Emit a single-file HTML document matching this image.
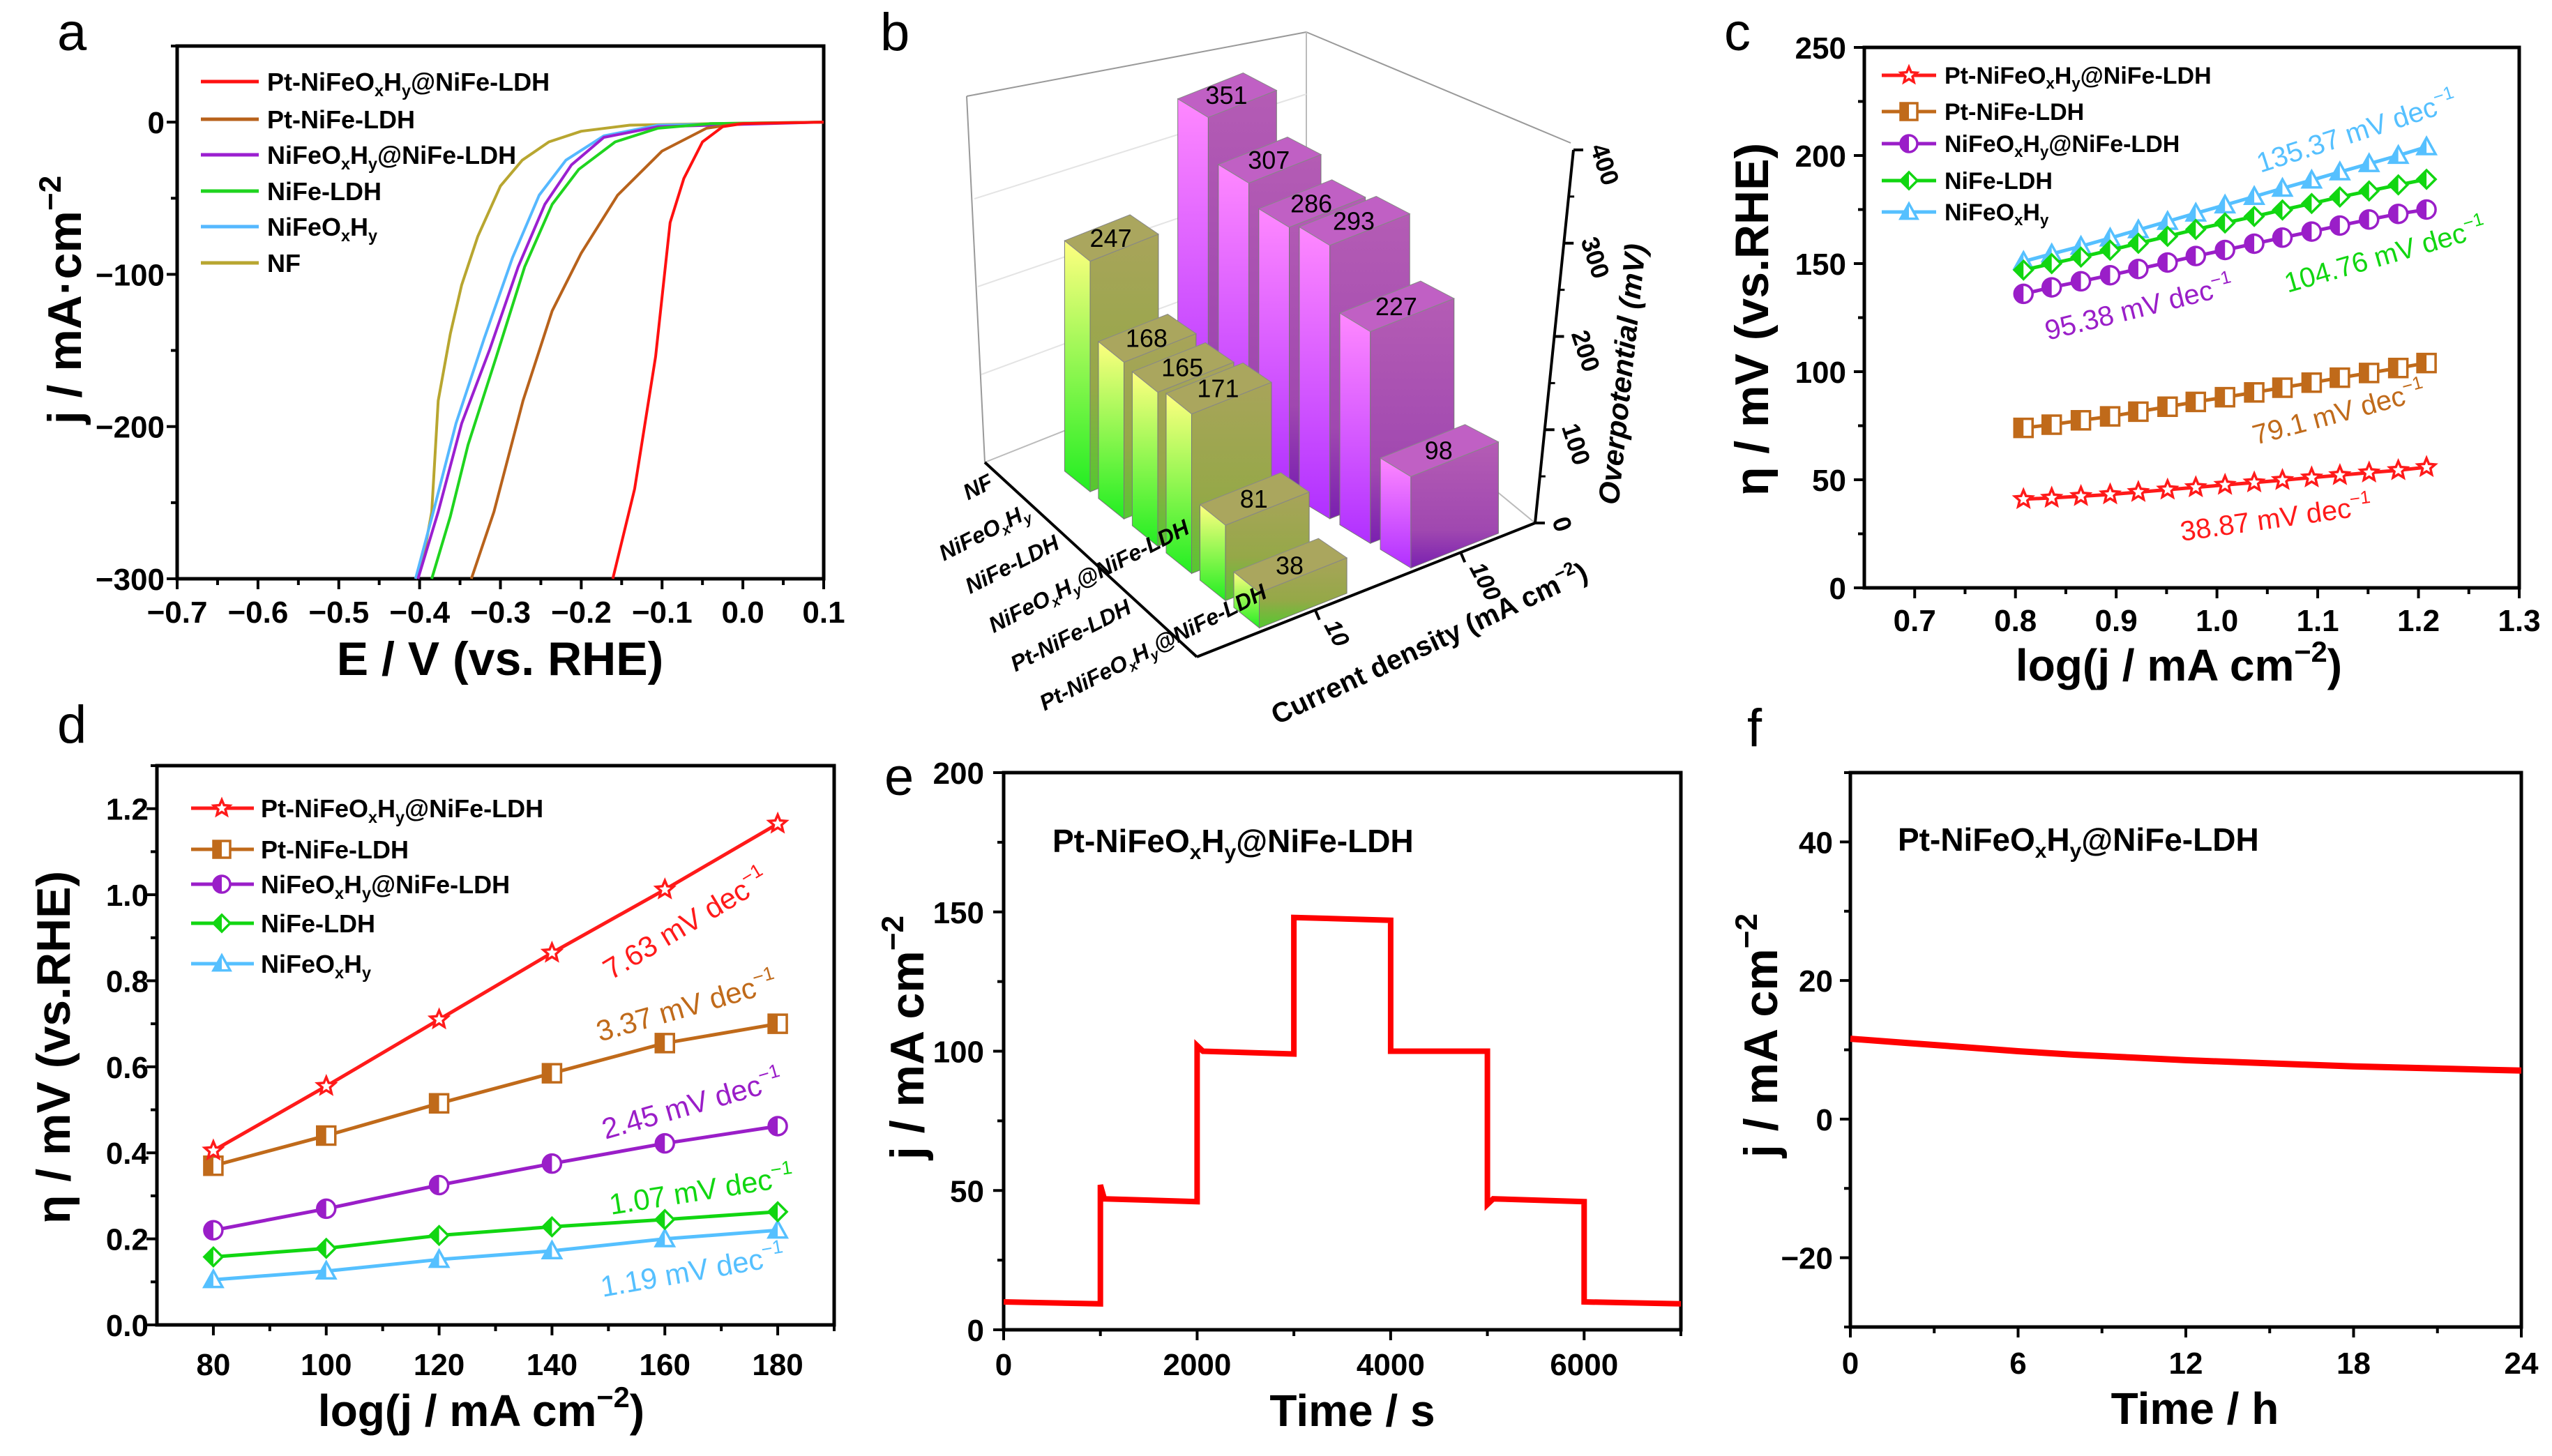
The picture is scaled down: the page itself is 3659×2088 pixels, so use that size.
<!DOCTYPE html>
<html><head><meta charset="utf-8">
<style>
html,body{margin:0;padding:0;background:#fff;}
svg{display:block;font-family:"Liberation Sans",Arial,sans-serif;}
</style></head>
<body>
<svg id="fig" xmlns="http://www.w3.org/2000/svg" width="3659" height="2088" viewBox="0 0 3659 2088">
<defs>
<linearGradient id="gBright" x1="0" y1="0" x2="0" y2="1"><stop offset="0" stop-color="#ffff80"/><stop offset="1" stop-color="#22ee22"/></linearGradient>
<linearGradient id="gFront" x1="0" y1="0" x2="0" y2="1"><stop offset="0" stop-color="#a8a45a"/><stop offset="0.6" stop-color="#95a848"/><stop offset="1" stop-color="#55c830"/></linearGradient>
<linearGradient id="pBright" x1="0" y1="0" x2="0" y2="1"><stop offset="0" stop-color="#ff88ff"/><stop offset="1" stop-color="#b030ff"/></linearGradient>
<linearGradient id="pFront" x1="0" y1="0" x2="0" y2="1"><stop offset="0" stop-color="#b45cb4"/><stop offset="0.7" stop-color="#a048b0"/><stop offset="1" stop-color="#7a20b0"/></linearGradient>
</defs>
</svg>
<script>
// ---------------- DATA ----------------
// panel a (LSV)
const aRedE=[-0.161,-0.134,-0.108,-0.090,-0.073,-0.050,-0.025,0.0,0.1];
const aRedJ=[-300,-241,-154,-66,-37,-13,-3,-1,0];
const aBrownE=[-0.336,-0.308,-0.272,-0.236,-0.200,-0.155,-0.100,-0.045,-0.005,0.1];
const aBrownJ=[-300,-256,-183,-124,-86,-48,-19,-4,-1,0];
const aGreenE=[-0.385,-0.362,-0.340,-0.305,-0.270,-0.236,-0.203,-0.158,-0.105,-0.040,0.1];
const aGreenJ=[-300,-259,-212,-154,-95,-54,-31,-13,-4,-1,0];
const aPurpleE=[-0.402,-0.377,-0.348,-0.313,-0.278,-0.245,-0.212,-0.172,-0.105,0.1];
const aPurpleJ=[-300,-256,-198,-149,-95,-54,-28,-10,-3,0];
const aBlueE=[-0.405,-0.383,-0.355,-0.320,-0.285,-0.252,-0.219,-0.172,-0.105,0.1];
const aBlueJ=[-300,-256,-198,-142,-89,-48,-25,-9,-2,0];
const aNfE=[-0.405,-0.395,-0.385,-0.377,-0.362,-0.348,-0.328,-0.300,-0.273,-0.240,-0.200,-0.140,-0.040,0.1];
const aNfJ=[-300,-285,-256,-183,-139,-107,-75,-42,-25,-13,-6,-2,-1,0];
// panel b (3D bars)
const bCategories=["NF","NiFeO_xH_y","NiFe-LDH","NiFeO_xH_y@NiFe-LDH","Pt-NiFe-LDH","Pt-NiFeO_xH_y@NiFe-LDH"];
const bValues10=[247,168,165,171,81,38];
const bValues100=[351,307,286,293,227,98];
const bZTicks=[0,100,200,300,400];
// panel c (Tafel)
const cX=[0.808,0.836,0.865,0.894,0.922,0.951,0.979,1.008,1.037,1.065,1.094,1.122,1.151,1.180,1.208];
const cRed=[41,41.6,42.4,43.2,44.3,45.4,46.5,47.6,48.7,49.8,51,52.1,53.3,54.4,55.8];
const cBrown=[74,75.5,77.5,79.3,81.5,83.8,86,88.2,90.4,92.6,94.9,97.2,99.4,101.7,104];
const cPurple=[136,139,141.8,144.6,147.5,150.5,153.5,156.3,159.2,162,164.8,167.6,170.4,173,175];
const cGreen=[147,150,153,156.2,159.4,162.6,165.8,168.8,171.8,174.8,177.8,180.8,183.6,186.4,189];
const cBlue=[151,154.5,158,161.8,165.6,169.5,173.3,177.1,181,184.8,188.6,192.4,196.2,200,204];
// panel d
const dX=[80,100,120,140,160,180];
const dRed=[0.405,0.555,0.71,0.865,1.012,1.165];
const dBrown=[0.37,0.44,0.515,0.585,0.655,0.70];
const dPurple=[0.22,0.27,0.325,0.375,0.422,0.462];
const dGreen=[0.158,0.178,0.208,0.228,0.245,0.263];
const dBlue=[0.105,0.125,0.152,0.172,0.2,0.22];
// panel e (multi-step)
const eT=[0,1000,1000,1040,2000,2000,2060,3000,3000,4000,4000,5000,5000,5060,6000,6000,7000];
const eJ=[10,9.3,52,47,46,102,100,99,148,147,100,100,45,47,46,10,9.3];
// panel f (stability)
const fT=[0,2,4,6,8,10,12,14,16,18,20,22,24];
const fJ=[11.6,11,10.4,9.8,9.3,8.9,8.5,8.2,7.9,7.6,7.4,7.2,7.0];

// ---------------- HELPERS ----------------
const NS='http://www.w3.org/2000/svg';
const svg=document.getElementById('fig');
function el(tag,attrs,parent){const e=document.createElementNS(NS,tag);for(const k in attrs)e.setAttribute(k,attrs[k]);(parent||svg).appendChild(e);return e;}
function fmt(s,fs){
  return s.replace(/_(.)/g,(m,c)=>`<tspan font-size="${fs*0.65}" baseline-shift="${-fs*0.22}">${c}</tspan>`)
          .replace(/\^\{([^}]*)\}/g,(m,c)=>`<tspan font-size="${fs*0.65}" baseline-shift="${fs*0.42}">${c}</tspan>`);
}
function txt(x,y,s,fs,o,parent){
  o=o||{};
  const t=el('text',{x:x,y:y,'font-size':fs,'font-weight':o.w||'bold','text-anchor':o.anchor||'start',fill:o.fill||'#000'},parent);
  if(o.italic)t.setAttribute('font-style','italic');
  if(o.rot!==undefined)t.setAttribute('transform',`rotate(${o.rot} ${x} ${y})`);
  t.innerHTML=fmt(s,fs);
  return t;
}
const MINUS='\u2212';
function num(v,d){const s=Math.abs(v).toFixed(d);return (v<0?MINUS:'')+s;}

function axes(p){
  const g=el('g',{});
  
  
  p.sx=v=>p.L+(v-p.x0)/(p.x1-p.x0)*(p.R-p.L);
  p.sy=v=>p.B-(v-p.y0)/(p.y1-p.y0)*(p.B-p.T);
  p.g=g;
  return p;
}
function finishAxes(p){
  const g=p.g;
  for(let v=p.xm0;v<=p.x1+1e-9;v+=p.xmStep){
    const x=p.sx(v);
    const t=el('line',{x1:x,x2:x,y1:p.B,y2:p.B+9,stroke:'#000','stroke-width':4},g);
    
    
  }
  for(let v=p.ym0;v<=p.y1+1e-9;v+=p.ymStep){
    const y=p.sy(v);
    const t=el('line',{x1:p.L-9,x2:p.L,y1:y,y2:y,stroke:'#000','stroke-width':4},g);
    
    
  }
  p.xt.forEach((v,i)=>{
    const x=p.sx(v);
    const t=el('line',{x1:x,x2:x,y1:p.B,y2:p.B+15,stroke:'#000','stroke-width':4},g);
    
    
    const l=txt(x,p.xlb,p.xl[i],44,{anchor:'middle'},g);
    
    
  });
  p.yt.forEach((v,i)=>{
    const y=p.sy(v);
    const t=el('line',{x1:p.L-15,x2:p.L,y1:y,y2:y,stroke:'#000','stroke-width':4},g);
    
    
    const l=txt(p.ylr,y+16,p.yl[i],44,{anchor:'end'},g);
    
    
  });
  const r=el('rect',{x:p.L,y:p.T,width:p.R-p.L,height:p.B-p.T,fill:'none',stroke:'#000','stroke-width':5},g);
  
  
}
function pathFrom(xs,ys,p){return xs.map((v,i)=>(i?'L':'M')+p.sx(v).toFixed(1)+','+p.sy(ys[i]).toFixed(1)).join(' ');}

function marker(type,x,y,color,s,parent){
  const g=el('g',{},parent);
  const h=s/2;
  let full, half;
  if(type==='square'){full=`M${x-h},${y-h}H${x+h}V${y+h}H${x-h}Z`;half=`M${x-h},${y-h}H${x}V${y+h}H${x-h}Z`;}
  else if(type==='circle'){full=`M${x-h},${y}A${h},${h} 0 1 1 ${x+h},${y}A${h},${h} 0 1 1 ${x-h},${y}Z`;half=`M${x},${y-h}A${h},${h} 0 0 0 ${x},${y+h}Z`;}
  else if(type==='diamond'){full=`M${x},${y-h}L${x+h},${y}L${x},${y+h}L${x-h},${y}Z`;half=`M${x},${y-h}L${x},${y+h}L${x-h},${y}Z`;}
  else if(type==='triangle'){full=`M${x},${y-h}L${x+h},${y+h*0.8}L${x-h},${y+h*0.8}Z`;half=`M${x},${y-h}L${x},${y+h*0.8}L${x-h},${y+h*0.8}Z`;}
  else {let d='';for(let k=0;k<10;k++){const r=k%2?h*0.45:h;const a=-Math.PI/2+k*Math.PI/5;d+=(k?'L':'M')+(x+r*Math.cos(a)).toFixed(1)+','+(y+r*Math.sin(a)).toFixed(1);}full=d+'Z';half=null;}
  el('path',{d:full,fill:'#fff',stroke:color,'stroke-width':3.5},g);
  if(half)el('path',{d:half,fill:color},g);
  return g;
}

// panel letters
[['a',82,72],['b',1262,72],['c',2472,72],['d',82,1065],['e',1268,1140],['f',2505,1070]].forEach(l=>{
  const t=txt(l[1],l[2],l[0],76,{w:'normal'});
  
  
});

// ================= PANEL A =================
const A=axes({name:'panel-a',L:254,R:1181,T:66,B:830,x0:-0.7,x1:0.1,y0:-300,y1:50,
  xt:[-0.7,-0.6,-0.5,-0.4,-0.3,-0.2,-0.1,0,0.1],yt:[-300,-200,-100,0],
  xm0:-0.65,xmStep:0.1,ym0:-250,ymStep:100,xlb:893,ylr:236});
A.xl=A.xt.map(v=>num(v,1));A.yl=A.yt.map(v=>num(v,0));
[[aNfE,aNfJ,'#b8a630','nf'],[aBlueE,aBlueJ,'#55b8ff','nifeoxhy'],[aPurpleE,aPurpleJ,'#9b1fd0','nifeoxhy-nife-ldh'],[aGreenE,aGreenJ,'#1fd41f','nife-ldh'],[aBrownE,aBrownJ,'#b8621b','pt-nife-ldh'],[aRedE,aRedJ,'#ff1010','pt-nifeoxhy-nife-ldh']].forEach(s=>{
  const p=el('path',{d:pathFrom(s[0],s[1],A),fill:'none',stroke:s[2],'stroke-width':4,'stroke-linejoin':'round'});
  
  
});
const aLeg=[['Pt-NiFeO_xH_y@NiFe-LDH','#ff1010'],['Pt-NiFe-LDH','#b8621b'],['NiFeO_xH_y@NiFe-LDH','#9b1fd0'],['NiFe-LDH','#1fd41f'],['NiFeO_xH_y','#55b8ff'],['NF','#b8a630']];
const aLegY=[117,171,222,274,325,377];
aLeg.forEach((l,i)=>{
  const g=el('g',{});
  
  
  el('line',{x1:288,x2:371,y1:aLegY[i],y2:aLegY[i],stroke:l[1],'stroke-width':5},g);
  txt(383,aLegY[i]+13,l[0],36,{},g);
});
finishAxes(A);
let t;
t=txt(717,968,'E / V (vs. RHE)',68,{anchor:'middle'});


t=txt(116,430,'j / mA·cm^{−2}',68,{anchor:'middle',rot:-90});



// ================= PANEL B (3D bars) =================
function P(a,b,h){const bb=b*(1-0.3*a);return [1716-304*a+485*bb, 942-279*a-192*bb-1.338*h];}
const bG=el('g',{});


const frameLines=[[[1386,138],[1412,663],'#999',2],[[1386,138],[1873,46],'#999',2],[[1873,46],[2252,205],'#999',2],[[1873,46],[1873,480],'#bbb',2],[[1412,663],[1873,480],'#bbb',2],[[1873,480],[2201,750],'#bbb',2]];
frameLines.forEach(f=>{
  const l=el('line',{x1:f[0][0],y1:f[0][1],x2:f[1][0],y2:f[1][1],stroke:f[2],'stroke-width':f[3]},bG);
  
  
});
[100,200,300].forEach(h=>{
  const y1=663-1.26*h, y2=480-1.15*h;
  const l=el('line',{x1:1412-0.05*h,y1:y1,x2:1873,y2:y2,stroke:'#e4e4e4','stroke-width':2},bG);
  
  
});
const aPos=bCategories.map((c,i)=>0.80-0.146*i);
function bar(a,b,h,bright,front,top,name,label){
  const a0=a-0.055,a1=a+0.055,b0=b-0.13,b1=b+0.13;
  const g=el('g',{},bG);
  
  
  const poly=pts=>pts.map(q=>q[0].toFixed(1)+','+q[1].toFixed(1)).join(' ');
  el('polygon',{points:poly([P(a0,b0,0),P(a1,b0,0),P(a1,b0,h),P(a0,b0,h)]),fill:`url(#${bright})`,stroke:'#777','stroke-width':1},g);
  el('polygon',{points:poly([P(a0,b0,0),P(a0,b1,0),P(a0,b1,h),P(a0,b0,h)]),fill:`url(#${front})`,stroke:'#777','stroke-width':1},g);
  el('polygon',{points:poly([P(a0,b0,h),P(a0,b1,h),P(a1,b1,h),P(a1,b0,h)]),fill:top,stroke:'#888','stroke-width':1},g);
  const c=P(a,b,h);
  const lt=txt(c[0],c[1]+13,String(label),36,{anchor:'middle',w:'normal'},g);
  
  
}
bValues100.forEach((v,i)=>bar(aPos[i],0.775,v,'pBright','pFront','#c060c4','bar-100-'+i,v));
bValues10.forEach((v,i)=>bar(aPos[i],0.325,v,'gBright','gFront','#aaa65e','bar-10-'+i,v));
[[P(1,0,0),P(0,0,0)],[P(0,0,0),P(0,1,0)]].forEach(s=>{
  const l=el('line',{x1:s[0][0],y1:s[0][1],x2:s[1][0],y2:s[1][1],stroke:'#000','stroke-width':4},bG);
  
  
});
const zAxis=el('line',{x1:2201,y1:750,x2:2256,y2:215,stroke:'#000','stroke-width':4},bG);


bZTicks.forEach(h=>{
  const x=2201+0.1375*h, y=750-1.3375*h;
  const tk=el('line',{x1:x,y1:y,x2:x+14,y2:y,stroke:'#000','stroke-width':4},bG);
  
  
  const lb=txt(x+24,y-4,String(h),36,{w:'bold',rot:72},bG);
  
  
});
[50,150,250,350].forEach(h=>{
  const x=2201+0.1375*h, y=750-1.3375*h;
  const tk=el('line',{x1:x,y1:y,x2:x+8,y2:y,stroke:'#000','stroke-width':3},bG);
  
  
});
const zt=txt(2340,538,'Overpotential (mV)',42,{anchor:'middle',italic:true,rot:-84},bG);


[[0.35,'10'],[0.78,'100']].forEach(c=>{
  const q=P(0,c[0],0);
  const tk=el('line',{x1:q[0],y1:q[1],x2:q[0]+6,y2:q[1]+14,stroke:'#000','stroke-width':4},bG);
  
  
  const lb=txt(q[0]+12,q[1]+22,c[1],34,{w:'bold',italic:true,rot:62},bG);
  
  
});
const cdt=txt(2055,935,'Current density (mA cm^{−2})',40,{anchor:'middle',rot:-25},bG);


const catCenters=[[1407,697],[1416,762],[1456,808],[1566,825],[1540,910],[1658,927]];
bCategories.forEach((c,i)=>{
  const lb=txt(catCenters[i][0],catCenters[i][1]+11,c,32,{anchor:'middle',italic:true,rot:-27},bG);
  
  
});

// ================= PANEL C =================
const C=axes({name:'panel-c',L:2673,R:3612,T:68,B:843,x0:0.65,x1:1.3,y0:0,y1:250,
  xt:[0.7,0.8,0.9,1.0,1.1,1.2,1.3],yt:[0,50,100,150,200,250],
  xm0:0.75,xmStep:0.1,ym0:25,ymStep:50,xlb:905,ylr:2647});
C.xl=C.xt.map(v=>v.toFixed(1));C.yl=C.yt.map(v=>String(v));
const cSeries=[[cBlue,'#55c0ff','triangle','nifeoxhy'],[cGreen,'#11d611','diamond','nife-ldh'],[cPurple,'#9a1ec8','circle','nifeoxhy-nife-ldh'],[cBrown,'#c06a1a','square','pt-nife-ldh'],[cRed,'#ff1a1a','star','pt-nifeoxhy-nife-ldh']];
cSeries.forEach(s=>{
  const g=el('g',{});
  
  
  el('path',{d:pathFrom(cX,s[0],C),fill:'none',stroke:s[1],'stroke-width':5},g);
  cX.forEach((x,i)=>{
    const m=marker(s[2],C.sx(x),C.sy(s[0][i]),s[1],26,g);
    
    
  });
});
const cLeg=[['Pt-NiFeO_xH_y@NiFe-LDH','#ff1a1a','star'],['Pt-NiFe-LDH','#c06a1a','square'],['NiFeO_xH_y@NiFe-LDH','#9a1ec8','circle'],['NiFe-LDH','#11d611','diamond'],['NiFeO_xH_y','#55c0ff','triangle']];
const cLegY=[108,160,206,259,304];
cLeg.forEach((l,i)=>{
  const g=el('g',{});
  
  
  el('line',{x1:2698,x2:2776,y1:cLegY[i],y2:cLegY[i],stroke:l[1],'stroke-width':5},g);
  marker(l[2],2737,cLegY[i],l[1],24,g);
  txt(2788,cLegY[i]+12,l[0],34,{},g);
});
const cAnn=[['135.37 mV dec^{−1}','#55c0ff',3241,248,-18],['104.76 mV dec^{−1}','#11d611',3280,420,-16],['95.38 mV dec^{−1}','#9a1ec8',2936,488,-14],['79.1 mV dec^{−1}','#c06a1a',3234,638,-15],['38.87 mV dec^{−1}','#ff1a1a',3128,776,-8]];
cAnn.forEach(a=>{
  const tt=txt(a[2],a[3],a[0],40,{w:'normal',fill:a[1],rot:a[4]});
  
  
});
finishAxes(C);
t=txt(3124,976,'log(j / mA cm^{−2})',64,{anchor:'middle'});


t=txt(2535,458,'η / mV (vs.RHE)',68,{anchor:'middle',rot:-90});



// ================= PANEL D =================
const D=axes({name:'panel-d',L:225,R:1196,T:1098,B:1900,x0:70,x1:190,y0:0,y1:1.3,
  xt:[80,100,120,140,160,180],yt:[0,0.2,0.4,0.6,0.8,1.0,1.2],
  xm0:90,xmStep:20,ym0:0.1,ymStep:0.2,xlb:1972,ylr:213});
D.xl=D.xt.map(v=>String(v));D.yl=D.yt.map(v=>v.toFixed(1));
const dSeries=[[dBlue,'#55c0ff','triangle','nifeoxhy'],[dGreen,'#11d611','diamond','nife-ldh'],[dPurple,'#9a1ec8','circle','nifeoxhy-nife-ldh'],[dBrown,'#c06a1a','square','pt-nife-ldh'],[dRed,'#ff1a1a','star','pt-nifeoxhy-nife-ldh']];
dSeries.forEach(s=>{
  const g=el('g',{});
  
  
  el('path',{d:pathFrom(dX,s[0],D),fill:'none',stroke:s[1],'stroke-width':5},g);
  dX.forEach((x,i)=>{
    const m=marker(s[2],D.sx(x),D.sy(s[0][i]),s[1],26,g);
    
    
  });
});
const dLegY=[1159,1218,1268,1324,1382];
cLeg.forEach((l,i)=>{
  const g=el('g',{});
  
  
  el('line',{x1:274,x2:364,y1:dLegY[i],y2:dLegY[i],stroke:l[1],'stroke-width':5},g);
  marker(l[2],318,dLegY[i],l[1],24,g);
  txt(374,dLegY[i]+13,l[0],36,{},g);
});
const dAnn=[['7.63 mV dec^{−1}','#ff1a1a',876,1406,-31],['3.37 mV dec^{−1}','#c06a1a',860,1494,-16],['2.45 mV dec^{−1}','#9a1ec8',868,1634,-16],['1.07 mV dec^{−1}','#11d611',876,1742,-9],['1.19 mV dec^{−1}','#55c0ff',864,1860,-10]];
dAnn.forEach(a=>{
  const tt=txt(a[2],a[3],a[0],42,{w:'normal',fill:a[1],rot:a[4]});
  
  
});
finishAxes(D);
t=txt(690,2045,'log(j / mA cm^{−2})',64,{anchor:'middle'});


t=txt(100,1502,'η / mV (vs.RHE)',68,{anchor:'middle',rot:-90});



// ================= PANEL E =================
const E=axes({name:'panel-e',L:1439,R:2410,T:1108,B:1907,x0:0,x1:7000,y0:0,y1:200,
  xt:[0,2000,4000,6000],yt:[0,50,100,150,200],
  xm0:1000,xmStep:2000,ym0:25,ymStep:50,xlb:1972,ylr:1411});
E.xl=E.xt.map(v=>String(v));E.yl=E.yt.map(v=>String(v));
const eLine=el('path',{d:pathFrom(eT,eJ,E),fill:'none',stroke:'#ff0000','stroke-width':8,'stroke-linejoin':'miter'});


t=txt(1509,1222,'Pt-NiFeO_xH_y@NiFe-LDH',46,{});


finishAxes(E);
t=txt(1939,2045,'Time / s',64,{anchor:'middle'});


t=txt(1324,1488,'j / mA cm^{−2}',68,{anchor:'middle',rot:-90});



// ================= PANEL F =================
const Fp=axes({name:'panel-f',L:2653,R:3615,T:1108,B:1903,x0:0,x1:24,y0:-30,y1:50,
  xt:[0,6,12,18,24],yt:[-20,0,20,40],
  xm0:3,xmStep:6,ym0:-30,ymStep:20,xlb:1970,ylr:2628});
Fp.xl=Fp.xt.map(v=>String(v));Fp.yl=Fp.yt.map(v=>num(v,0));
const fLine=el('path',{d:pathFrom(fT,fJ,Fp),fill:'none',stroke:'#ff0000','stroke-width':9});


t=txt(2721,1220,'Pt-NiFeO_xH_y@NiFe-LDH',46,{});


finishAxes(Fp);
t=txt(3147,2042,'Time / h',64,{anchor:'middle'});


t=txt(2548,1485,'j / mA cm^{−2}',68,{anchor:'middle',rot:-90});


</script>
</body></html>
